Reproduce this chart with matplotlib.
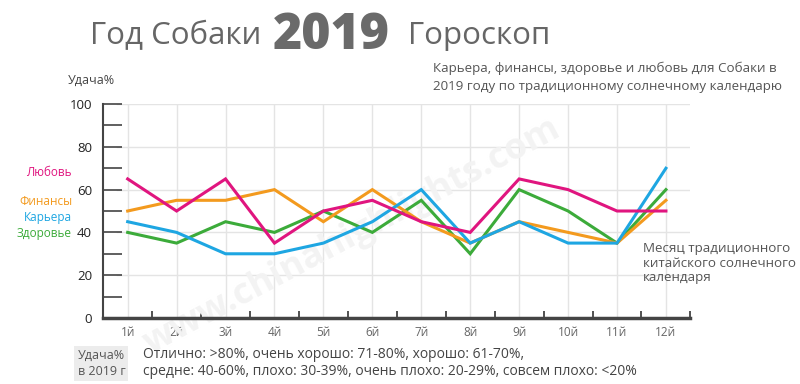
import matplotlib
matplotlib.use("Agg")
import matplotlib.pyplot as plt
from matplotlib.ticker import MultipleLocator, FixedLocator

months = ["1й", "2й", "3й", "4й", "5й", "6й", "7й", "8й", "9й", "10й", "11й", "12й"]
love = [65, 50, 65, 35, 50, 55, 45, 40, 65, 60, 50, 50]
finance = [50, 55, 55, 60, 45, 60, 45, 35, 45, 40, 35, 55]
career = [45, 40, 30, 30, 35, 45, 60, 35, 45, 35, 35, 70]
health = [40, 35, 45, 40, 50, 40, 55, 30, 60, 50, 35, 60]
yticks = [0, 20, 40, 60, 80, 100]

C_LOVE = "#e0157f"
C_FIN = "#f39a1e"
C_CAR = "#1ea6e2"
C_HEA = "#3cab3a"

plt.rcParams['font.family'] = ['Open Sans', 'DejaVu Sans']

fig = plt.figure(figsize=(8, 3.84), dpi=100)
ax = fig.add_axes([0.129, 0.172, 0.734, 0.557])

x = list(range(1, 13))
for vals, c in [(health, C_HEA), (finance, C_FIN), (career, C_CAR), (love, C_LOVE)]:
    ax.plot(x, vals, color=c, lw=2.2, solid_joinstyle='miter', zorder=3)

ax.set_xlim(0.5, 12.5)
ax.set_ylim(0, 100)
ax.set_yticks(yticks)
ax.yaxis.set_minor_locator(MultipleLocator(10))
ax.set_xticks(x)
ax.set_xticklabels(months)
ax.xaxis.set_minor_locator(FixedLocator([i + 0.5 for i in range(0, 13)]))

ax.tick_params(axis='x', which='major', length=0, pad=6, labelsize=8.5, labelcolor='#666666')
ax.tick_params(axis='x', which='minor', direction='in', length=5, width=1.2, color='#333333')
ax.tick_params(axis='y', which='both', direction='in', length=14, width=1.2, color='#444444')
ax.tick_params(axis='y', which='major', pad=8, labelsize=9.5, labelcolor='#222222')

for s in ['top', 'right']:
    ax.spines[s].set_visible(False)
ax.spines['left'].set_color('#444444')
ax.spines['left'].set_linewidth(1.5)
ax.spines['bottom'].set_color('#444444')
ax.spines['bottom'].set_linewidth(2.5)

ax.grid(True, axis='x', which='major', color='#e4e4e4', lw=1)
for yv in yticks[1:]:
    ax.axhline(yv, xmin=14/587, color='#e4e4e4', lw=1, zorder=0)
ax.set_axisbelow(True)

# watermark
ax.text(5.6, 38, "www.chinahighlights.com", rotation=28, fontsize=26, color='#f3f3f3',
        ha='center', va='center', fontweight='bold', zorder=1)

# Title
fig.text(0.112, 0.905, "Год Собаки", fontsize=22.5, color='#666666', va='center', ha='left')
fig.text(0.341, 0.905, "2019", fontsize=36, color='#6a6a6a', fontweight='heavy', va='center', ha='left')
fig.text(0.510, 0.905, "Гороскоп", fontsize=22.5, color='#666666', va='center', ha='left')

fig.text(0.541, 0.822, "Карьера, финансы, здоровье и любовь для Собаки в", fontsize=9.6, color='#555555', va='center')
fig.text(0.541, 0.775, "2019 году по традиционному солнечному календарю", fontsize=9.6, color='#555555', va='center')

fig.text(0.085, 0.79, "Удача%", fontsize=9, color='#444444', va='center')

fig.text(0.09, 0.552, "Любовь", fontsize=8.5, color=C_LOVE, va='center', ha='right')
fig.text(0.09, 0.476, "Финансы", fontsize=8.5, color=C_FIN, va='center', ha='right')
fig.text(0.09, 0.433, "Карьера", fontsize=8.5, color=C_CAR, va='center', ha='right')
fig.text(0.09, 0.391, "Здоровье", fontsize=8.5, color=C_HEA, va='center', ha='right')

fig.text(0.804, 0.315, "Месяц традиционного\nкитайского солнечного\nкалендаря", fontsize=9.6,
         color='#555555', va='center', ha='left', linespacing=1.15)

fig.text(0.097, 0.054, "Удача%\nв 2019 г", fontsize=9, color='#555555', va='center', ha='left',
         linespacing=1.3, bbox=dict(boxstyle='square,pad=0.25', fc='#ececec', ec='none'))
fig.text(0.179, 0.054, "Отлично: >80%, очень хорошо: 71-80%, хорошо: 61-70%,\n"
         "средне: 40-60%, плохо: 30-39%, очень плохо: 20-29%, совсем плохо: <20%",
         fontsize=10, color='#444444', va='center', ha='left', linespacing=1.2)

fig.savefig("out.png", dpi=100)
